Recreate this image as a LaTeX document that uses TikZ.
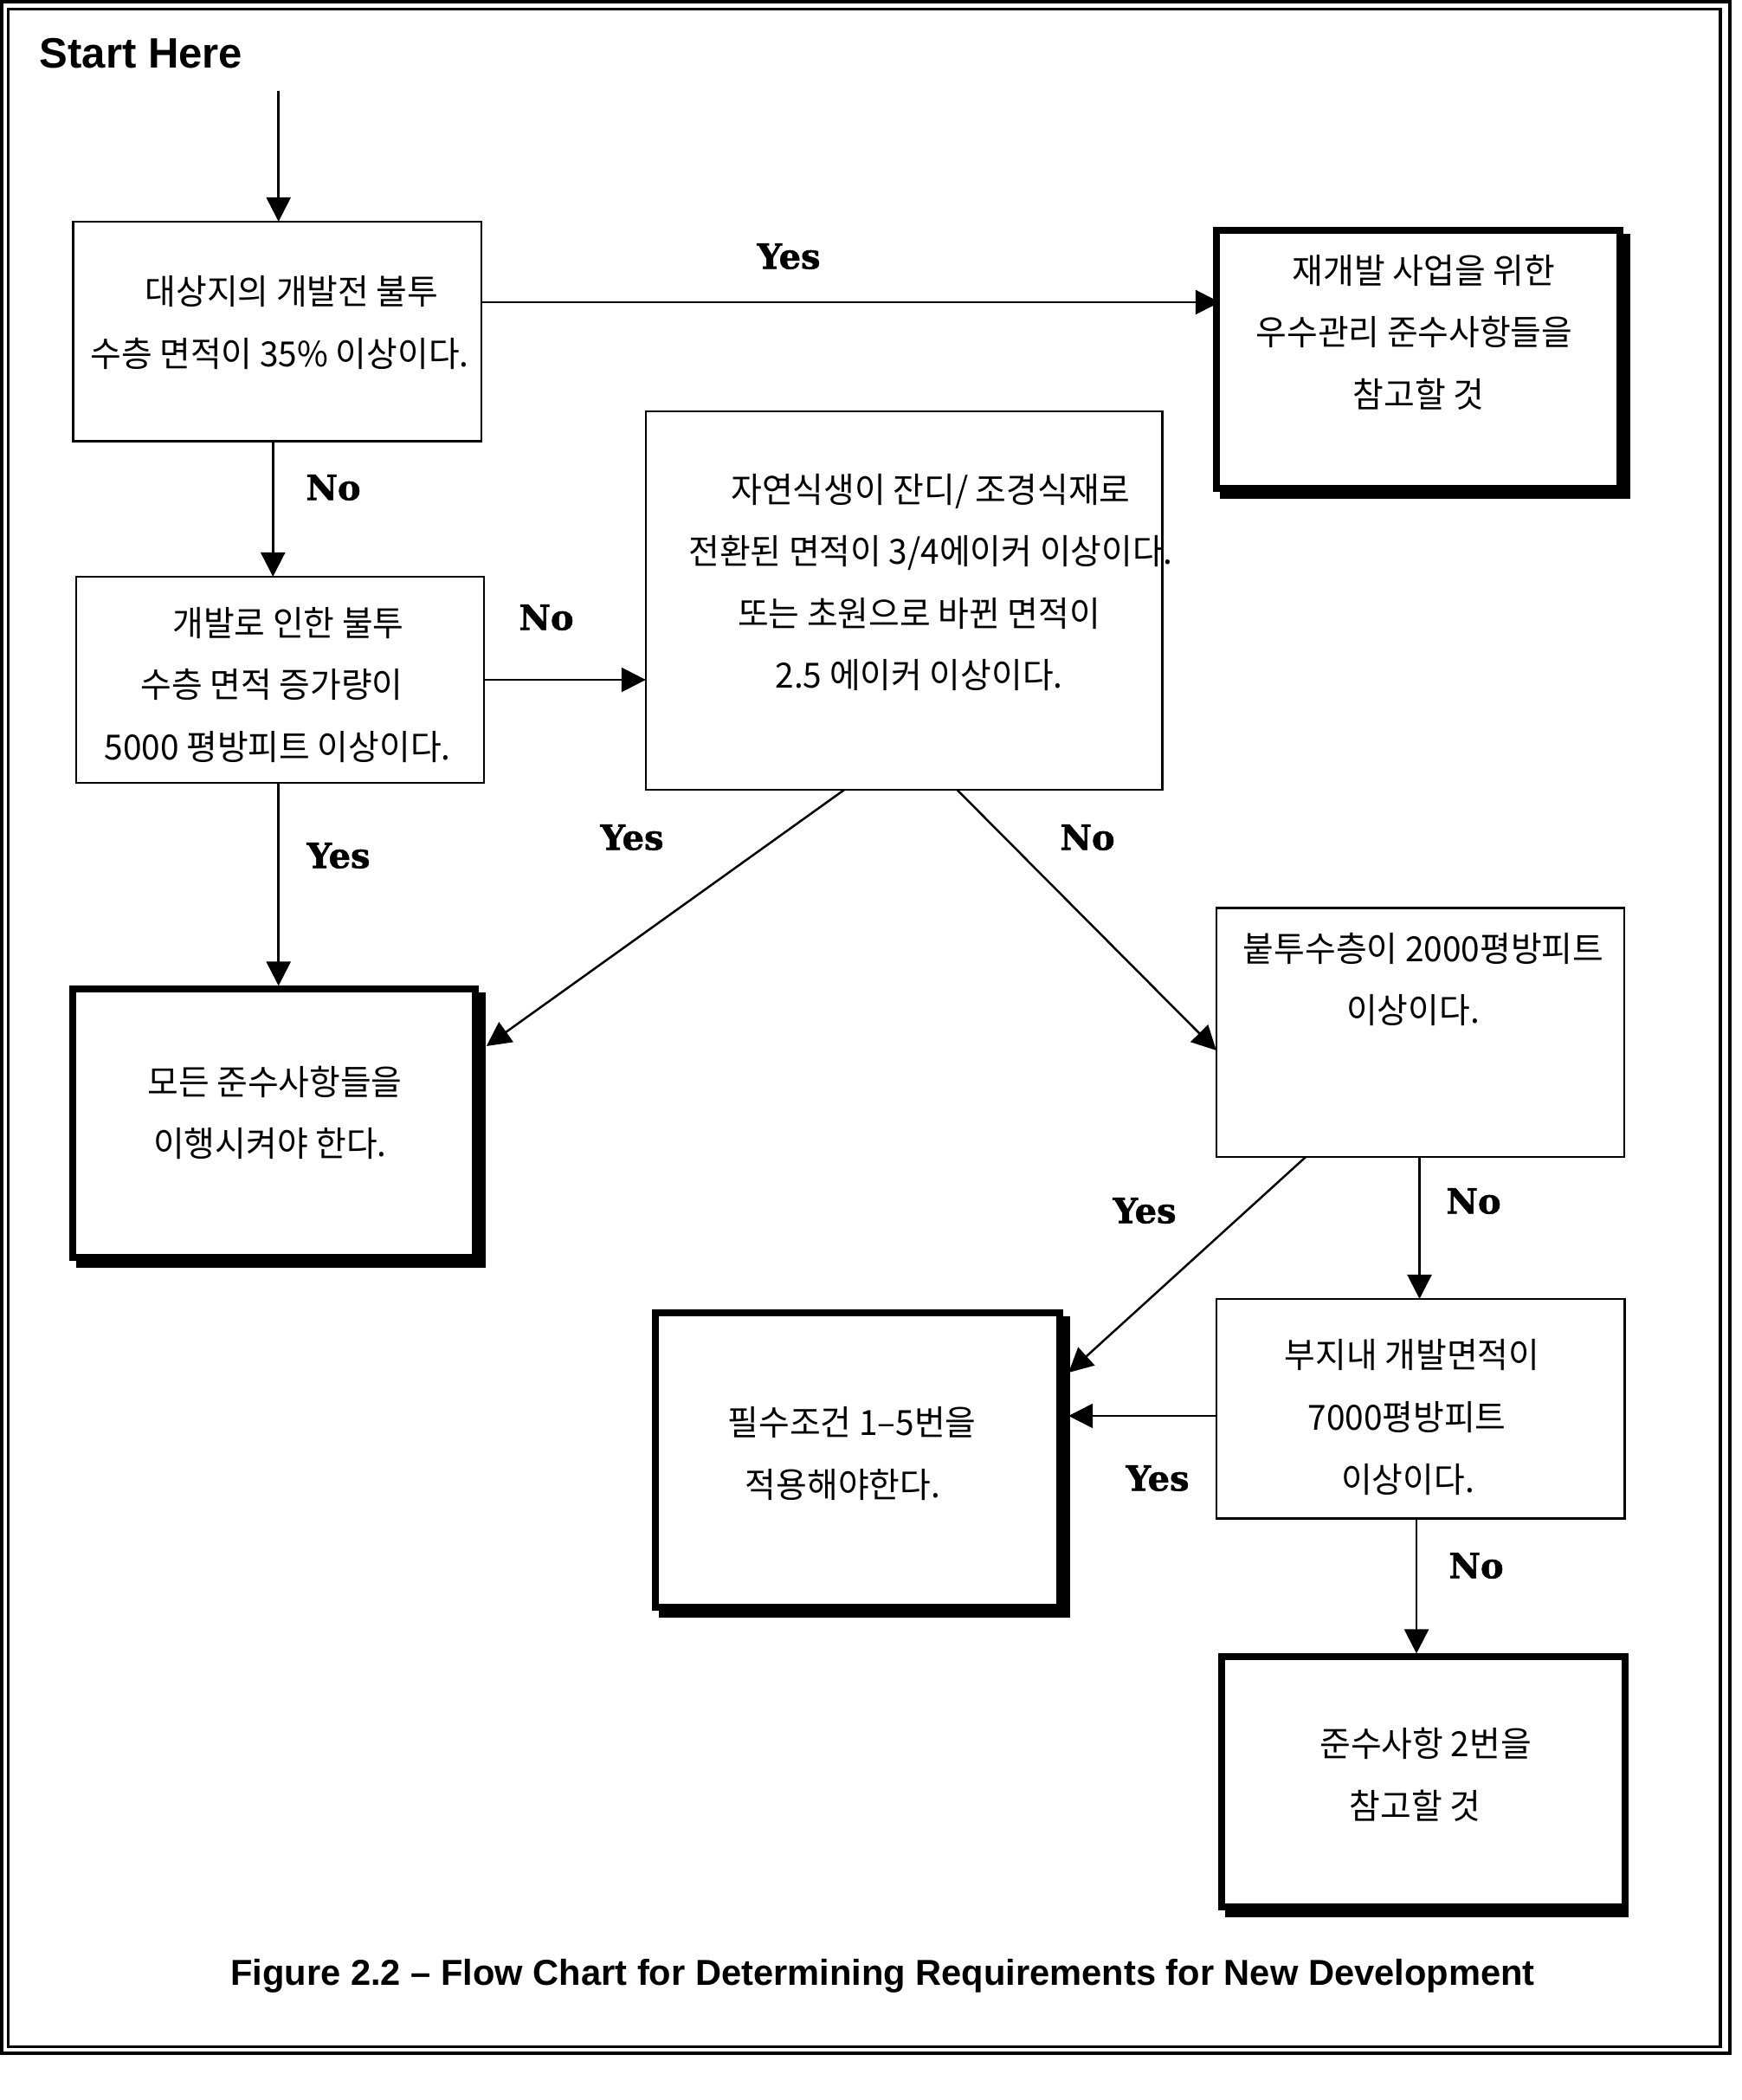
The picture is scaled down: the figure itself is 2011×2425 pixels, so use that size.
\documentclass[tikz,border=0pt]{standalone}
\usepackage{fontspec}
\setmainfont{Liberation Sans}
\newfontfamily\kr[FakeStretch=0.97]{Noto Sans CJK KR}
\newfontfamily\lbl[BoldFeatures={FakeBold=1.3}]{DejaVu Serif}
\usetikzlibrary{arrows.meta,calc}
\pgfdeclarelayer{bg}
\pgfsetlayers{bg,main}
\newcommand{\kgap}[1]{\rule{#1}{0pt}}
\begin{document}
\begin{tikzpicture}[x=0.01cm,y=-0.01cm,
  thinbox/.style={draw=black, line width=0.025cm, fill=white, rectangle, inner sep=0pt, outer sep=0pt},
  thickbox/.style={draw=black, line width=0.08cm, fill=white, rectangle, inner sep=0pt, outer sep=0pt},
  boxtext/.style={align=center, font=\kr\fontsize{11.38pt}{20.34pt}\selectfont, inner sep=0pt},
  yn/.style={font=\lbl\bfseries\fontsize{11.38pt}{13pt}\selectfont, inner sep=0pt},
  arr/.style={-{Triangle[length=0.28cm,width=0.28cm]}, line width=0.025cm},
  frameline/.style={draw=black}]
\useasboundingbox (0,0) rectangle (2011,2425);

% boxes
\node[thinbox, minimum width=4.715cm, minimum height=2.535cm] (A) at (320.25,382.75) {};
\node[thickbox, minimum width=4.655cm, minimum height=2.98cm] (B) at (1637.75,415) {};
\node[thinbox, minimum width=4.71cm, minimum height=2.38cm] (C) at (323.5,785) {};
\node[thinbox, minimum width=5.965cm, minimum height=4.37cm] (D) at (1044.25,693.5) {};
\node[thickbox, minimum width=4.645cm, minimum height=3.095cm] (E) at (316.75,1297.25) {};
\node[thinbox, minimum width=4.71cm, minimum height=2.875cm] (F) at (1640.5,1192.25) {};
\node[thickbox, minimum width=4.661cm, minimum height=3.40cm] (G) at (990.45,1686.3) {};
\node[thinbox, minimum width=4.715cm, minimum height=2.535cm] (H) at (1640.75,1626.75) {};
\node[thickbox, minimum width=4.655cm, minimum height=2.885cm] (I) at (1643.75,2057.75) {};

% shadows
\begin{pgfonlayer}{bg}
\fill[white] (0,0) rectangle (2011,2425);
\fill[black] ([shift={(4,4)}]B.north west) rectangle ([shift={(12,12)}]B.south east);
\fill[black] ([shift={(4,4)}]E.north west) rectangle ([shift={(12,12)}]E.south east);
\fill[black] ([shift={(4,4)}]G.north west) rectangle ([shift={(12,12)}]G.south east);
\fill[black] ([shift={(4,4)}]I.north west) rectangle ([shift={(4,12)}]I.south east);
\end{pgfonlayer}

% frame
\draw[frameline, line width=0.04cm] (2,2) rectangle (1997.5,2370.5);
\draw[frameline, line width=0.035cm] (9.5,10.5) rectangle (1987,2363.5);

% box texts
\node[boxtext] (At) at (323,372.75) {\kgap{0.28cm}대상지의 개발전 불투\\수층 면적이 35\% 이상이다.};
\node[boxtext] (Bt) at (1633.5,383.5) {\kgap{0.22cm}재개발 사업을 위한\\우수관리 준수사항들을\\\kgap{0.1cm}참고할 것};
\node[boxtext] (Ct) at (320.5,790.85) {\kgap{0.25cm}개발로 인한 불투\\수층 면적 증가량이\kgap{0.13cm}\\5000 평방피트 이상이다.};
\node[boxtext] (Dt) at (1075,672.5) {자연식생이 잔디/ 조경식재로\\전환된 면적이 3/4에이커 이상이다.\\또는 초원으로 바뀐 면적이\kgap{0.27cm}\\2.5 에이커 이상이다.\kgap{0.27cm}};
\node[boxtext] (Et) at (317.5,1285) {모든 준수사항들을\\이행시켜야 한다.\kgap{0.11cm}};
\node[boxtext] (Ft) at (1644,1130.75) {붙투수층이 2000평방피트\\이상이다.\kgap{0.24cm}};
\node[boxtext] (Gt) at (984,1678.5) {필수조건 1–5번을\\적용해야한다.\kgap{0.21cm}};
\node[boxtext] (Ht) at (1631,1636.5) {부지내 개발면적이\\7000평방피트\kgap{0.12cm}\\이상이다.\kgap{0.1cm}};
\node[boxtext] (It) at (1646.6,2049.5) {준수사항 2번을\\참고할 것\kgap{0.24cm}};

% titles
\node[anchor=base west, font=\bfseries\fontsize{13.95pt}{16pt}\selectfont, inner sep=0pt] (start) at (45,78.3) {Start Here};
\node[anchor=base, font=\bfseries\fontsize{11.84pt}{14pt}\selectfont, inner sep=0pt] (cap) at (1019.5,2292) {Figure 2.2 – Flow Chart for Determining Requirements for New Development};

% labels
\node[yn] (y1) at (911,296) {Yes};
\node[yn] (n1) at (385,563) {No};
\node[yn] (n2) at (631,713) {No};
\node[yn] (y2) at (391,988) {Yes};
\node[yn] (y3) at (730,967) {Yes};
\node[yn] (n3) at (1256,967) {No};
\node[yn] (y4) at (1322,1398) {Yes};
\node[yn] (n4) at (1702,1387) {No};
\node[yn] (y5) at (1337,1707) {Yes};
\node[yn] (n5) at (1705,1808) {No};

% connectors
\coordinate (s0) at (321.7,105);
\draw[arr] (s0) -- (s0 |- A.north);
\draw[arr] ([shift={(0,-33.75)}]A.east) -- ([shift={(4,-33.75)}]A.east -| B.west);
\draw[arr] ([shift={(-5,0)}]A.south) -- ([shift={(-5,0)}]A.south |- C.north);
\draw[arr] (C.east) -- (C.east -| D.west);
\draw[arr, shorten >=0.04cm] ([shift={(-1.8,0)}]C.south) -- ([shift={(-1.8,0)}]C.south |- E.north);
\draw[arr] ([shift={(-69.25,0)}]D.south) -- ([shift={(12.7,-89.25)}]E.east);
\draw[arr] ([shift={(61.25,0)}]D.south) -- ([shift={(0,20.75)}]F.west);
\draw[arr] ([shift={(-132.5,0)}]F.south) -- ([shift={(10.5,-101.3)}]G.east);
\draw[arr] ([shift={(-1,0)}]F.south) -- ([shift={(-1,0)}]F.south |- H.north);
\draw[arr] ([shift={(0,8.25)}]H.west) -- ([shift={(10.5,8.25)}]H.west -| G.east);
\draw[arr, shorten >=0.04cm] ([shift={(-4.75,0)}]H.south) -- ([shift={(-4.75,0)}]H.south |- I.north);
\end{tikzpicture}
\end{document}
